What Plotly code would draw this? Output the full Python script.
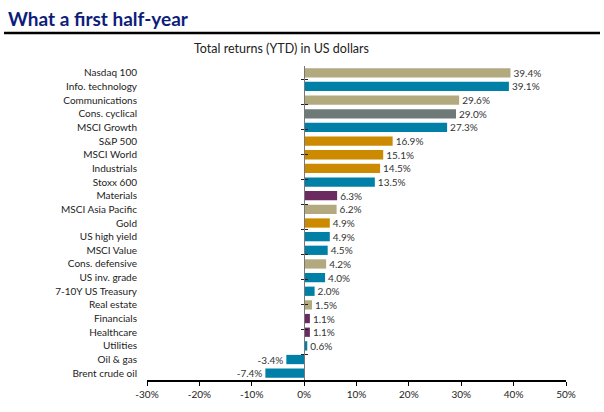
import plotly.graph_objects as go

categories = ["Nasdaq 100", "Info. technology", "Communications", "Cons. cyclical", "MSCI Growth",
              "S&P 500", "MSCI World", "Industrials", "Stoxx 600", "Materials", "MSCI Asia Pacific",
              "Gold", "US high yield", "MSCI Value", "Cons. defensive", "US inv. grade",
              "7-10Y US Treasury", "Real estate", "Financials", "Healthcare", "Utilities",
              "Oil & gas", "Brent crude oil"]
values = [39.4, 39.1, 29.6, 29.0, 27.3, 16.9, 15.1, 14.5, 13.5, 6.3, 6.2, 4.9, 4.9, 4.5, 4.2, 4.0,
          2.0, 1.5, 1.1, 1.1, 0.6, -3.4, -7.4]
groups = ["tan", "teal", "tan", "gray", "teal", "orange", "orange", "orange", "teal", "purple", "tan",
          "orange", "teal", "teal", "tan", "teal", "teal", "tan", "purple", "purple", "teal", "teal", "teal"]
x_ticks = [-30, -20, -10, 0, 10, 20, 30, 40, 50]
x_tick_labels = ["-30%", "-20%", "-10%", "0%", "10%", "20%", "30%", "40%", "50%"]

palette = {"tan": "#B2A97F", "teal": "#0080A6", "gray": "#6E7A78", "orange": "#CC8A00", "purple": "#6B2A60"}

W, H = 604, 412
L, R, T, B = 147, 38, 66, 32
pw = W - L - R
ph = H - T - B

def px(x):
    return (x - L) / pw

def py(y):
    return 1 - (y - T) / ph

font_family = "Lato, 'Open Sans', sans-serif"

fig = go.Figure()
fig.add_trace(go.Bar(
    x=values, y=categories, orientation="h",
    marker=dict(color=[palette[g] for g in groups], line=dict(width=0)),
    text=[f"{v:.1f}%" for v in values], textposition="outside", constraintext="none",
    textfont=dict(size=10, color="#333333", family=font_family),
    cliponaxis=False, hoverinfo="skip", showlegend=False, yaxis="y",
))
# invisible helpers to carry the zero-line axes
for ax in ["y2", "y3"]:
    fig.add_trace(go.Scatter(x=[0] * len(categories), y=categories, mode="markers",
                             marker=dict(opacity=0), yaxis=ax, showlegend=False, hoverinfo="skip"))

cat_order = dict(categoryorder="array", categoryarray=categories, autorange="reversed")

fig.update_layout(
    width=W, height=H,
    margin=dict(l=L, r=R, t=T, b=B, autoexpand=False),
    paper_bgcolor="white", plot_bgcolor="white",
    bargap=0.32,
    font=dict(family=font_family, color="#222222", size=10),
    xaxis=dict(range=[-30, 50], tickvals=x_ticks, ticktext=x_tick_labels, automargin=False,
               showgrid=False, zeroline=False, showline=True, linecolor="#000000", linewidth=1.5,
               ticks="outside", ticklen=4, tickcolor="#000000", tickwidth=1,
               tickfont=dict(size=10, color="#222222")),
    yaxis=dict(**cat_order, showgrid=False, zeroline=False, showline=False, ticks="", automargin=False,
               tickfont=dict(size=10, color="#222222"), ticklabelstandoff=9),
    yaxis2=dict(**cat_order, overlaying="y", anchor="free", position=0.375, side="left", automargin=False,
                showline=True, linecolor="#777777", linewidth=1, showgrid=False, zeroline=False,
                ticks="outside", tickson="boundaries", ticklen=3, tickcolor="#222222",
                showticklabels=False),
    yaxis3=dict(**cat_order, overlaying="y", anchor="free", position=0.375, side="right", automargin=False,
                showline=False, showgrid=False, zeroline=False,
                ticks="outside", tickson="boundaries", ticklen=3, tickcolor="#222222",
                showticklabels=False),
    annotations=[
        dict(text="<b>What a first half-year</b>", xref="paper", yref="paper",
             x=px(6), y=py(19), xanchor="left", yanchor="middle", showarrow=False,
             font=dict(size=19, color="#0D1E7A", family=font_family, weight=900)),
        dict(text="Total returns (YTD) in US dollars", xref="paper", yref="paper",
             x=px(281), y=py(49), xanchor="center", yanchor="middle", showarrow=False,
             font=dict(size=12.5, color="#222222", family=font_family)),
    ],
    shapes=[
        dict(type="line", xref="paper", yref="paper", x0=px(4), x1=px(600), y0=py(33), y1=py(33),
             line=dict(color="#000000", width=2.5)),
    ],
)

fig.write_html("out.html", config={"displayModeBar": False},
               post_script="document.body.style.margin='0';")
